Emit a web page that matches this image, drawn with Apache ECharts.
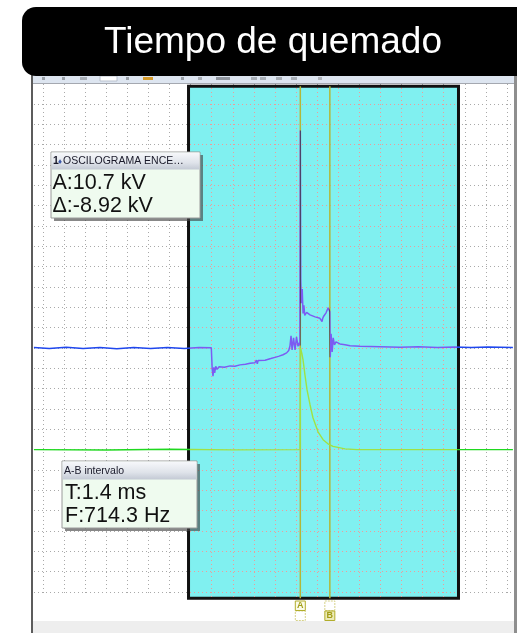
<!DOCTYPE html>
<html>
<head>
<meta charset="utf-8">
<script src="https://cdn.jsdelivr.net/npm/echarts@6/dist/echarts.min.js"></script>
<style>
  html, body { margin: 0; padding: 0; background: #ffffff; }
  #c { width: 517px; height: 633px; }
</style>
</head>
<body>
<div id="c"></div>
<script>
// Channel A: ignition oscillogram (time in ms, amplitude in kV, 1 kV per division)
const chATime = [
  -0.43, 0.3, 1.1, 1.9, 2.7, 3.5, 4.3, 5.1, 5.9, 6.7, 7.4, 7.98,
  8.02, 8.06, 8.1, 8.14, 8.19, 8.25, 8.35, 8.6, 8.87, 9.1, 9.34, 9.6, 9.82,
  10.05, 10.12, 10.16, 10.2, 10.53, 10.8, 11.0, 11.2, 11.38, 11.55, 11.65,
  11.71, 11.76, 11.81, 11.88, 11.95, 12.02, 12.09, 12.15, 12.18,
  12.2, 12.22, 12.25, 12.29, 12.33, 12.37, 12.41, 12.5, 12.66, 12.9, 13.13,
  13.2, 13.23, 13.26, 13.3, 13.42, 13.52, 13.6,
  13.62, 13.66, 13.71, 13.76, 13.82, 13.89, 14.08, 14.32, 14.56, 15.03,
  15.98, 16.93, 17.8, 18.7, 19.5, 20.3, 21.1, 22.28
];
const chAValue = [
  0.02, -0.03, 0.04, -0.02, 0.03, -0.04, 0.02, -0.03, 0.03, -0.02, 0.03, 0.01,
  -1.0, -1.38, -0.95, -1.22, -0.9, -1.05, -0.92, -0.95, -0.88, -0.9, -0.83, -0.8, -0.75,
  -0.72, -0.6, -0.78, -0.62, -0.6, -0.52, -0.46, -0.4, -0.33, -0.24, -0.12,
  0.1, 0.6, -0.09, 0.5, -0.09, 0.55, 0.08, 0.26, 0.12,
  10.7, 3.4, 2.2, 2.9, 1.7, 2.1, 1.6, 1.75, 1.63, 1.53, 1.46,
  1.38, 1.3, 1.45, 1.55, 1.73, 1.98, 1.78,
  -0.45, 0.7, -0.2, 0.5, 0.15, 0.3, 0.2, 0.16, 0.11, 0.08,
  0.06, 0.04, 0.06, 0.03, 0.05, 0.02, 0.05, 0.03
];

// Channel B: drawn five divisions below channel A
const chBTime = [
  -0.43, 3, 6, 9, 12.19, 12.21, 12.27, 12.33, 12.42, 12.52, 12.66, 12.8,
  13.04, 13.28, 13.51, 13.75, 14.32, 14.89, 18, 22.28
];
const chBValue = [
  -5, -5.02, -4.98, -5.01, -5, 0, -0.25, -0.58, -1.32, -2.06, -2.79, -3.43,
  -4.12, -4.51, -4.71, -4.84, -4.96, -5.0, -5.0, -5.0
];

// Ruler cursors (ms)
const cursorNames = ['A', 'B'];
const cursorTimes = [12.2, 13.6];

// Highlighted burn window: time span (ms) and vertical span (div)
const windowTime = [6.9, 19.7];
const windowLevel = [-12.31, 12.87];

// Readout texts
const titleText = 'Tiempo de quemado';
const channelHeader = ['1', '\u2666', 'OSCILOGRAMA ENCE\u2026'];
const channelReadout = ['A:10.7 kV', '\u0394:-8.92 kV'];
const intervalHeader = 'A-B intervalo';
const intervalReadout = ['T:1.4 ms', 'F:714.3 Hz'];

const FONT = "'Liberation Sans', Arial, sans-serif";
const blueOut = '#1f47ee', blueIn = '#7b5cf2', overlapTone = '#4c4268';
const greenOut = '#1fd81f', greenIn = '#9fe244';
const cursorColor = '#b2b838';

const pairs = (xs, ys) => xs.map((x, i) => [x, ys[i]]);

const pxPerMs = 464 / 22, pxPerDiv = 488 / 24;
const xMin = -9 / pxPerMs, xMax = 470 / pxPerMs;
const yMax = 264 / pxPerDiv, yMin = -252 / pxPerDiv;

function axis(extra) {
  return Object.assign({
    type: 'value',
    axisLine: { show: false },
    axisTick: { show: false },
    axisLabel: { show: false },
    splitLine: { show: false }
  }, extra);
}
const greyLine = { show: true, lineStyle: { color: '#a9a9a9', width: 1, type: [1, 3] } };
const pinkLine = { show: true, lineStyle: { color: '#ee9a9a', width: 1, type: [1, 3] } };

const chart = echarts.init(document.getElementById('c'), null, { renderer: 'canvas' });

const option = {
  animation: false,
  backgroundColor: '#ffffff',
  grid: [
    { left: 34, top: 84, width: 479, height: 516 },        // traces
    { left: 43, top: 84, width: 464, height: 509 },        // grey vertical divisions
    { left: 34, top: 104, width: 479, height: 488 },       // grey horizontal divisions
    { left: 43 + 8 * pxPerMs, top: 88, width: 11 * pxPerMs, height: 509 }, // window verticals
    { left: 190, top: 104, width: 267, height: 488 }       // window horizontals
  ],
  xAxis: [
    axis({ gridIndex: 0, min: xMin, max: xMax }),
    axis({ gridIndex: 1, min: 0, max: 22, interval: 1, z: 0, splitLine: greyLine }),
    axis({ gridIndex: 2, min: 0, max: 1 }),
    axis({ gridIndex: 3, min: 8, max: 19, interval: 1, z: 3, splitLine: pinkLine }),
    axis({ gridIndex: 4, min: 0, max: 1 })
  ],
  yAxis: [
    axis({ gridIndex: 0, min: yMin, max: yMax }),
    axis({ gridIndex: 1, min: 0, max: 1 }),
    axis({ gridIndex: 2, min: -12, max: 12, interval: 1, z: 0, splitLine: greyLine }),
    axis({ gridIndex: 3, min: 0, max: 1 }),
    axis({ gridIndex: 4, min: -12, max: 12, interval: 1, z: 3, splitLine: pinkLine })
  ],
  visualMap: [
    {
      type: 'piecewise', show: false, seriesIndex: 1, dimension: 0,
      pieces: [
        { lt: 6.97, color: blueOut },
        { gte: 6.97, lt: 12.17, color: blueIn },
        { gte: 12.17, lte: 12.23, color: overlapTone },
        { gt: 12.23, lt: 13.58, color: blueIn },
        { gte: 13.58, lte: 13.63, color: overlapTone },
        { gt: 13.63, lte: 19.63, color: blueIn },
        { gt: 19.63, color: blueOut }
      ]
    },
    {
      type: 'piecewise', show: false, seriesIndex: 2, dimension: 0,
      pieces: [
        { lt: 6.97, color: greenOut },
        { gte: 6.97, lte: 19.63, color: greenIn },
        { gt: 19.63, color: greenOut }
      ]
    }
  ],
  series: [
    {
      // window fill
      type: 'line', data: [], z: 1, silent: true,
      markArea: {
        silent: true,
        itemStyle: { color: '#80f0f0' },
        data: [[
          { xAxis: windowTime[0], yAxis: windowLevel[1] },
          { xAxis: windowTime[1], yAxis: windowLevel[0] }
        ]]
      }
    },
    {
      name: 'Canal A', type: 'line', z: 5, silent: true,
      showSymbol: false, symbol: 'none', sampling: null,
      lineStyle: { width: 1.5 },
      data: pairs(chATime, chAValue)
    },
    {
      name: 'Canal B', type: 'line', z: 5, silent: true,
      showSymbol: false, symbol: 'none',
      lineStyle: { width: 1.4 },
      data: pairs(chBTime, chBValue)
    },
    {
      // window frame
      type: 'line', data: [], z: 7, silent: true,
      markArea: {
        silent: true,
        itemStyle: { color: 'rgba(0,0,0,0)', borderColor: '#111111', borderWidth: 3 },
        data: [[
          { xAxis: windowTime[0], yAxis: windowLevel[1] },
          { xAxis: windowTime[1], yAxis: windowLevel[0] }
        ]]
      }
    }
  ].concat(cursorTimes.map((t, i) => ({
    // ruler cursor, beneath the traces
    name: 'Cursor ' + cursorNames[i], type: 'line', z: 4, silent: true,
    showSymbol: false, symbol: 'none',
    color: cursorColor,
    lineStyle: { color: cursorColor, width: 1.5, type: 'solid' },
    data: [[t, windowLevel[1]], [t, windowLevel[0]]]
  })))
};

chart.setOption(option);

// Window chrome, readout panels and cursor tags
const g = [];
const Z = 100;

// application frame
g.push({ type: 'rect', z: Z, shape: { x: 33, y: 74, width: 481, height: 9 }, style: { fill: '#dde5f0' } });
g.push({ type: 'rect', z: Z, shape: { x: 33, y: 83, width: 481, height: 1 }, style: { fill: '#a4a8b0' } });
[[42, 3, '#9aa0a8'], [62, 3, '#9aa0a8'], [80, 7, '#a8aeb6'], [126, 3, '#9aa0a8'],
 [181, 3, '#9aa0a8'], [198, 4, '#a8aeb6'], [216, 14, '#8f959e'], [251, 6, '#a8aeb6'],
 [260, 6, '#a8aeb6'], [276, 6, '#a8aeb6'], [291, 6, '#a8aeb6'], [318, 4, '#b0b4bc']]
  .forEach(([x, w, c]) => g.push({ type: 'rect', z: Z, shape: { x: x, y: 77, width: w, height: 3 }, style: { fill: c } }));
g.push({ type: 'rect', z: Z, shape: { x: 100, y: 76, width: 17, height: 5 }, style: { fill: '#ffffff', stroke: '#b8c0cc', lineWidth: 1 } });
g.push({ type: 'rect', z: Z, shape: { x: 143, y: 77, width: 10, height: 3 }, style: { fill: '#d49a2a' } });
g.push({ type: 'rect', z: Z, shape: { x: 31, y: 74, width: 2, height: 559 }, style: { fill: '#5c5c5c' } });
g.push({ type: 'rect', z: Z, shape: { x: 514, y: 74, width: 3, height: 559 }, style: { fill: '#8e8e8e' } });
g.push({ type: 'rect', z: Z, shape: { x: 33, y: 621, width: 481, height: 12 }, style: { fill: '#eeeeee' } });

// title banner
g.push({ type: 'rect', z: Z + 1, shape: { x: 22, y: 7, width: 530, height: 69, r: 14 }, style: { fill: '#000000' } });
g.push({ type: 'text', z: Z + 2, style: { text: titleText, x: 273, y: 42.5, fill: '#ffffff', font: '37px ' + FONT, textAlign: 'center', textVerticalAlign: 'middle' } });

// readout panel builder
function panel(x, y, w, h, hh) {
  g.push({ type: 'rect', z: Z, shape: { x: x + 3, y: y + 3, width: w, height: h }, style: { fill: 'rgba(70,70,70,0.65)' } });
  g.push({ type: 'rect', z: Z + 1, shape: { x: x, y: y, width: w, height: h }, style: { fill: '#effbef', stroke: '#9a9a9a', lineWidth: 1 } });
  g.push({ type: 'rect', z: Z + 2, shape: { x: x + 0.5, y: y + 0.5, width: w - 1, height: hh },
    style: { fill: new echarts.graphic.LinearGradient(0, 0, 0, 1, [
      { offset: 0, color: '#f7f8fb' }, { offset: 0.6, color: '#dfe3ea' }, { offset: 1, color: '#c3c9d4' }]) } });
}
function txt(t, x, y, font, fill, z) {
  g.push({ type: 'text', z: z || Z + 3, style: { text: t, x: x, y: y, font: font, fill: fill, textAlign: 'left', textVerticalAlign: 'middle' } });
}

panel(51, 152, 149, 66, 17);
txt(channelHeader[0], 53, 161.5, 'bold 10.5px ' + FONT, '#1a1a2a');
txt(channelHeader[1], 58, 161.5, '8px ' + FONT, '#3a58a8');
txt(channelHeader[2], 63, 161.5, '10.5px ' + FONT, '#1a1a2a');
txt(channelReadout[0], 52.5, 183, '21.5px ' + FONT, '#111111');
txt(channelReadout[1], 52.5, 205.8, '21.5px ' + FONT, '#111111');

panel(62, 461, 135, 67, 18);
txt(intervalHeader, 64, 471.5, '10.5px ' + FONT, '#1a1a2a');
txt(intervalReadout[0], 65, 493, '21.5px ' + FONT, '#111111');
txt(intervalReadout[1], 65, 515.8, '21.5px ' + FONT, '#111111');

// cursor tags under the plot
cursorTimes.forEach((t, i) => {
  const px = chart.convertToPixel({ xAxisIndex: 0, yAxisIndex: 0 }, [t, 0])[0];
  const solidY = i === 0 ? 601 : 611;
  const dashY = i === 0 ? 611 : 601;
  g.push({ type: 'rect', z: Z, shape: { x: px - 5, y: dashY, width: 10, height: 9.5 },
    style: { fill: '#ffffff', stroke: '#d6d28a', lineWidth: 1, lineDash: [2, 1] } });
  g.push({ type: 'rect', z: Z, shape: { x: px - 5, y: solidY, width: 10, height: 9.5 },
    style: { fill: i === 0 ? '#fbfbe8' : '#ecebb8', stroke: '#b2ad2c', lineWidth: 1 } });
  g.push({ type: 'text', z: Z + 1, style: { text: cursorNames[i], x: px, y: solidY + 5, font: 'bold 9px ' + FONT,
    fill: '#a29d18', textAlign: 'center', textVerticalAlign: 'middle' } });
});

chart.setOption({ graphic: { elements: g } });
</script>
</body>
</html>
